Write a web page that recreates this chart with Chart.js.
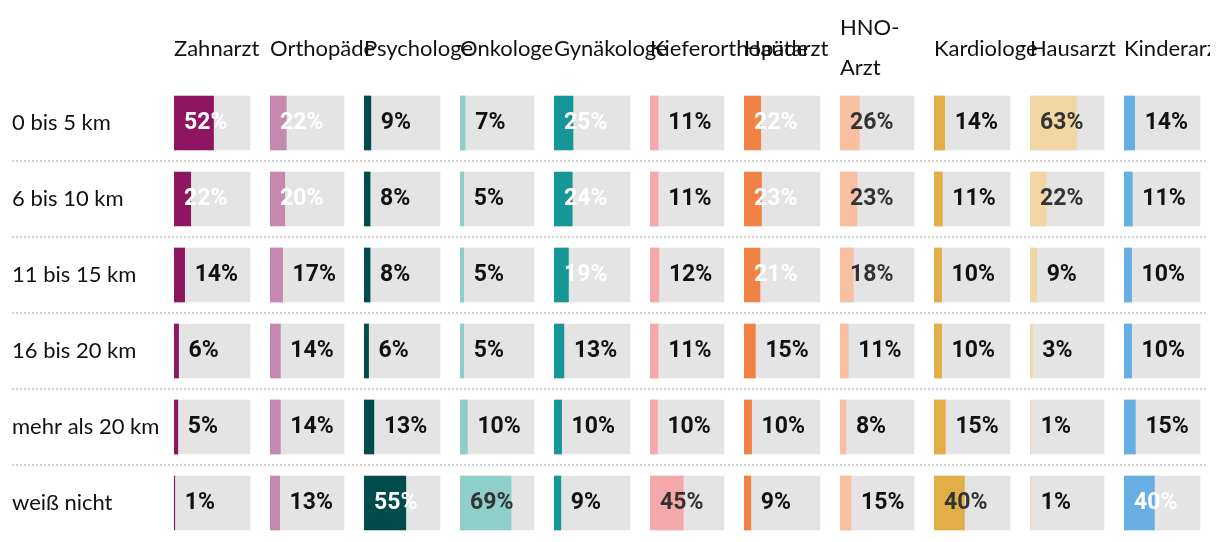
<!DOCTYPE html>
<html>
<head>
<meta charset="utf-8">
<script src="https://cdn.jsdelivr.net/npm/chart.js@4.4.1/dist/chart.umd.min.js"></script>
<style>
  html, body { margin: 0; padding: 0; background: #ffffff; overflow: hidden; }
  #wrap { width: 1210px; height: 542px; }
</style>
</head>
<body>
<div id="wrap"><canvas id="c" width="1210" height="542"></canvas></div>
<script>
// ---- categories ----
const distances = ['0 bis 5 km', '6 bis 10 km', '11 bis 15 km', '16 bis 20 km', 'mehr als 20 km', 'weiß nicht'];
const doctors = ['Zahnarzt', 'Orthopäde', 'Psychologe', 'Onkologe', 'Gynäkologe', 'Kieferorthopäde',
                 'Hautarzt', 'HNO-Arzt', 'Kardiologe', 'Hausarzt', 'Kinderarzt'];

// ---- series values (percent per distance row) ----
const zahnarzt         = [52, 22, 14, 6, 5, 1];
const orthopaede       = [22, 20, 17, 14, 14, 13];
const psychologe       = [9, 8, 8, 6, 13, 55];
const onkologe         = [7, 5, 5, 5, 10, 69];
const gynaekologe      = [25, 24, 19, 13, 10, 9];
const kieferorthopaede = [11, 11, 12, 11, 10, 45];
const hautarzt         = [22, 23, 21, 15, 10, 9];
const hnoArzt          = [26, 23, 18, 11, 8, 15];
const kardiologe       = [14, 11, 10, 10, 15, 40];
const hausarzt         = [63, 22, 9, 3, 1, 1];
const kinderarzt       = [14, 11, 10, 10, 15, 40];
const seriesValues = [zahnarzt, orthopaede, psychologe, onkologe, gynaekologe, kieferorthopaede,
                      hautarzt, hnoArzt, kardiologe, hausarzt, kinderarzt];
// background track = 100 %
const fullShare = [100, 100, 100, 100, 100, 100];

// ---- styles ----
const barColors = ['#8e1560', '#c688ae', '#004b4b', '#8ecfcb', '#159797', '#f5a8a9',
                   '#f28244', '#f9bfa0', '#e3ae48', '#f1d7a4', '#67aee2'];
const insideTextColors = ['#ffffff', '#ffffff', '#ffffff', '#333333', '#ffffff', '#333333',
                          '#ffffff', '#333333', '#333333', '#333333', '#ffffff'];
const trackColor = '#e4e4e4';
const labelColumnWidth = 162;
const columnWidths = [96, 94, 96, 94, 96, 94, 96, 94, 96, 94, 84];
const trackWidths  = [76, 74, 76, 74, 76, 74, 76, 74, 76, 74, 76];
const textFont = 'Lato, Roboto, sans-serif';
const boldFont = 'Roboto, "Liberation Sans", sans-serif';

// ---- scales ----
const scales = {
  y: {
    type: 'category',
    position: 'left',
    offset: true,
    ticks: {
      mirror: true, padding: 0, crossAlign: 'near', autoSkip: false, color: '#111111',
      font: { family: textFont, size: 22, lineHeight: '2px' }
    },
    grid: {
      offset: true, drawTicks: false, lineWidth: 2,
      color: (c) => (c.type === 'tick' && c.index > 0) ? '#d2d2d2' : 'rgba(0,0,0,0)'
    },
    border: { display: false, dash: [2, 2] }
  },
  xL: {
    type: 'linear', position: 'bottom', stack: 'cols', stackWeight: labelColumnWidth, weight: 0,
    min: 0, max: 1,
    ticks: { display: false }, grid: { display: false, drawTicks: false }, border: { display: false }
  }
};
doctors.forEach((d, k) => {
  scales['x' + k] = {
    type: 'linear', position: 'bottom', stack: 'cols', stackWeight: columnWidths[k], weight: k + 1,
    min: 0, max: 100 * columnWidths[k] / trackWidths[k],
    ticks: { display: false }, grid: { display: false, drawTicks: false }, border: { display: false }
  };
});

// ---- datasets ----
const datasets = [];
const valueDatasetIndex = [];
doctors.forEach((d, k) => {
  datasets.push({
    label: d + ' (100 %)', data: fullShare, xAxisID: 'x' + k, yAxisID: 'y',
    backgroundColor: trackColor, order: 2, grouped: false, barThickness: 54, borderWidth: 0
  });
  valueDatasetIndex.push(datasets.length);
  datasets.push({
    label: d, data: seriesValues[k], xAxisID: 'x' + k, yAxisID: 'y',
    backgroundColor: barColors[k], order: 1, grouped: false, barThickness: 54, borderWidth: 0
  });
});

// ---- plugins: value labels and column headers ----
const valueLabels = {
  id: 'valueLabels',
  afterDatasetsDraw(chart) {
    const ctx = chart.ctx;
    ctx.save();
    ctx.font = 'bold 23px ' + boldFont;
    ctx.textAlign = 'left';
    ctx.textBaseline = 'middle';
    doctors.forEach((d, k) => {
      const meta = chart.getDatasetMeta(valueDatasetIndex[k]);
      meta.data.forEach((bar, i) => {
        const v = seriesValues[k][i];
        const inside = v >= 18;
        const x = (inside ? bar.base : bar.x) + 10;
        ctx.fillStyle = inside ? insideTextColors[k] : '#111111';
        ctx.fillText(v + '%', x, bar.y);
      });
    });
    ctx.restore();
  }
};

const columnHeaders = {
  id: 'columnHeaders',
  afterDraw(chart) {
    const ctx = chart.ctx;
    const top = chart.chartArea.top;
    ctx.save();
    ctx.font = '22px ' + textFont;
    ctx.textAlign = 'left';
    ctx.textBaseline = 'alphabetic';
    ctx.fillStyle = '#111111';
    doctors.forEach((d, k) => {
      const scale = chart.scales['x' + k];
      const h = d.indexOf('-');
      if (h >= 0) {
        ctx.fillText(d.slice(0, h + 1), scale.left, top - 50);
        ctx.fillText(d.slice(h + 1), scale.left, top - 10);
      } else {
        ctx.fillText(d, scale.left, top - 29);
      }
    });
    ctx.restore();
  }
};

new Chart(document.getElementById('c'), {
  type: 'bar',
  data: { labels: distances, datasets },
  options: {
    indexAxis: 'y',
    responsive: false,
    animation: false,
    devicePixelRatio: 1,
    layout: { padding: { left: 12, right: 2, top: 85, bottom: 1 } },
    plugins: { legend: { display: false }, tooltip: { enabled: false } },
    scales
  },
  plugins: [valueLabels, columnHeaders]
});
</script>
</body>
</html>
